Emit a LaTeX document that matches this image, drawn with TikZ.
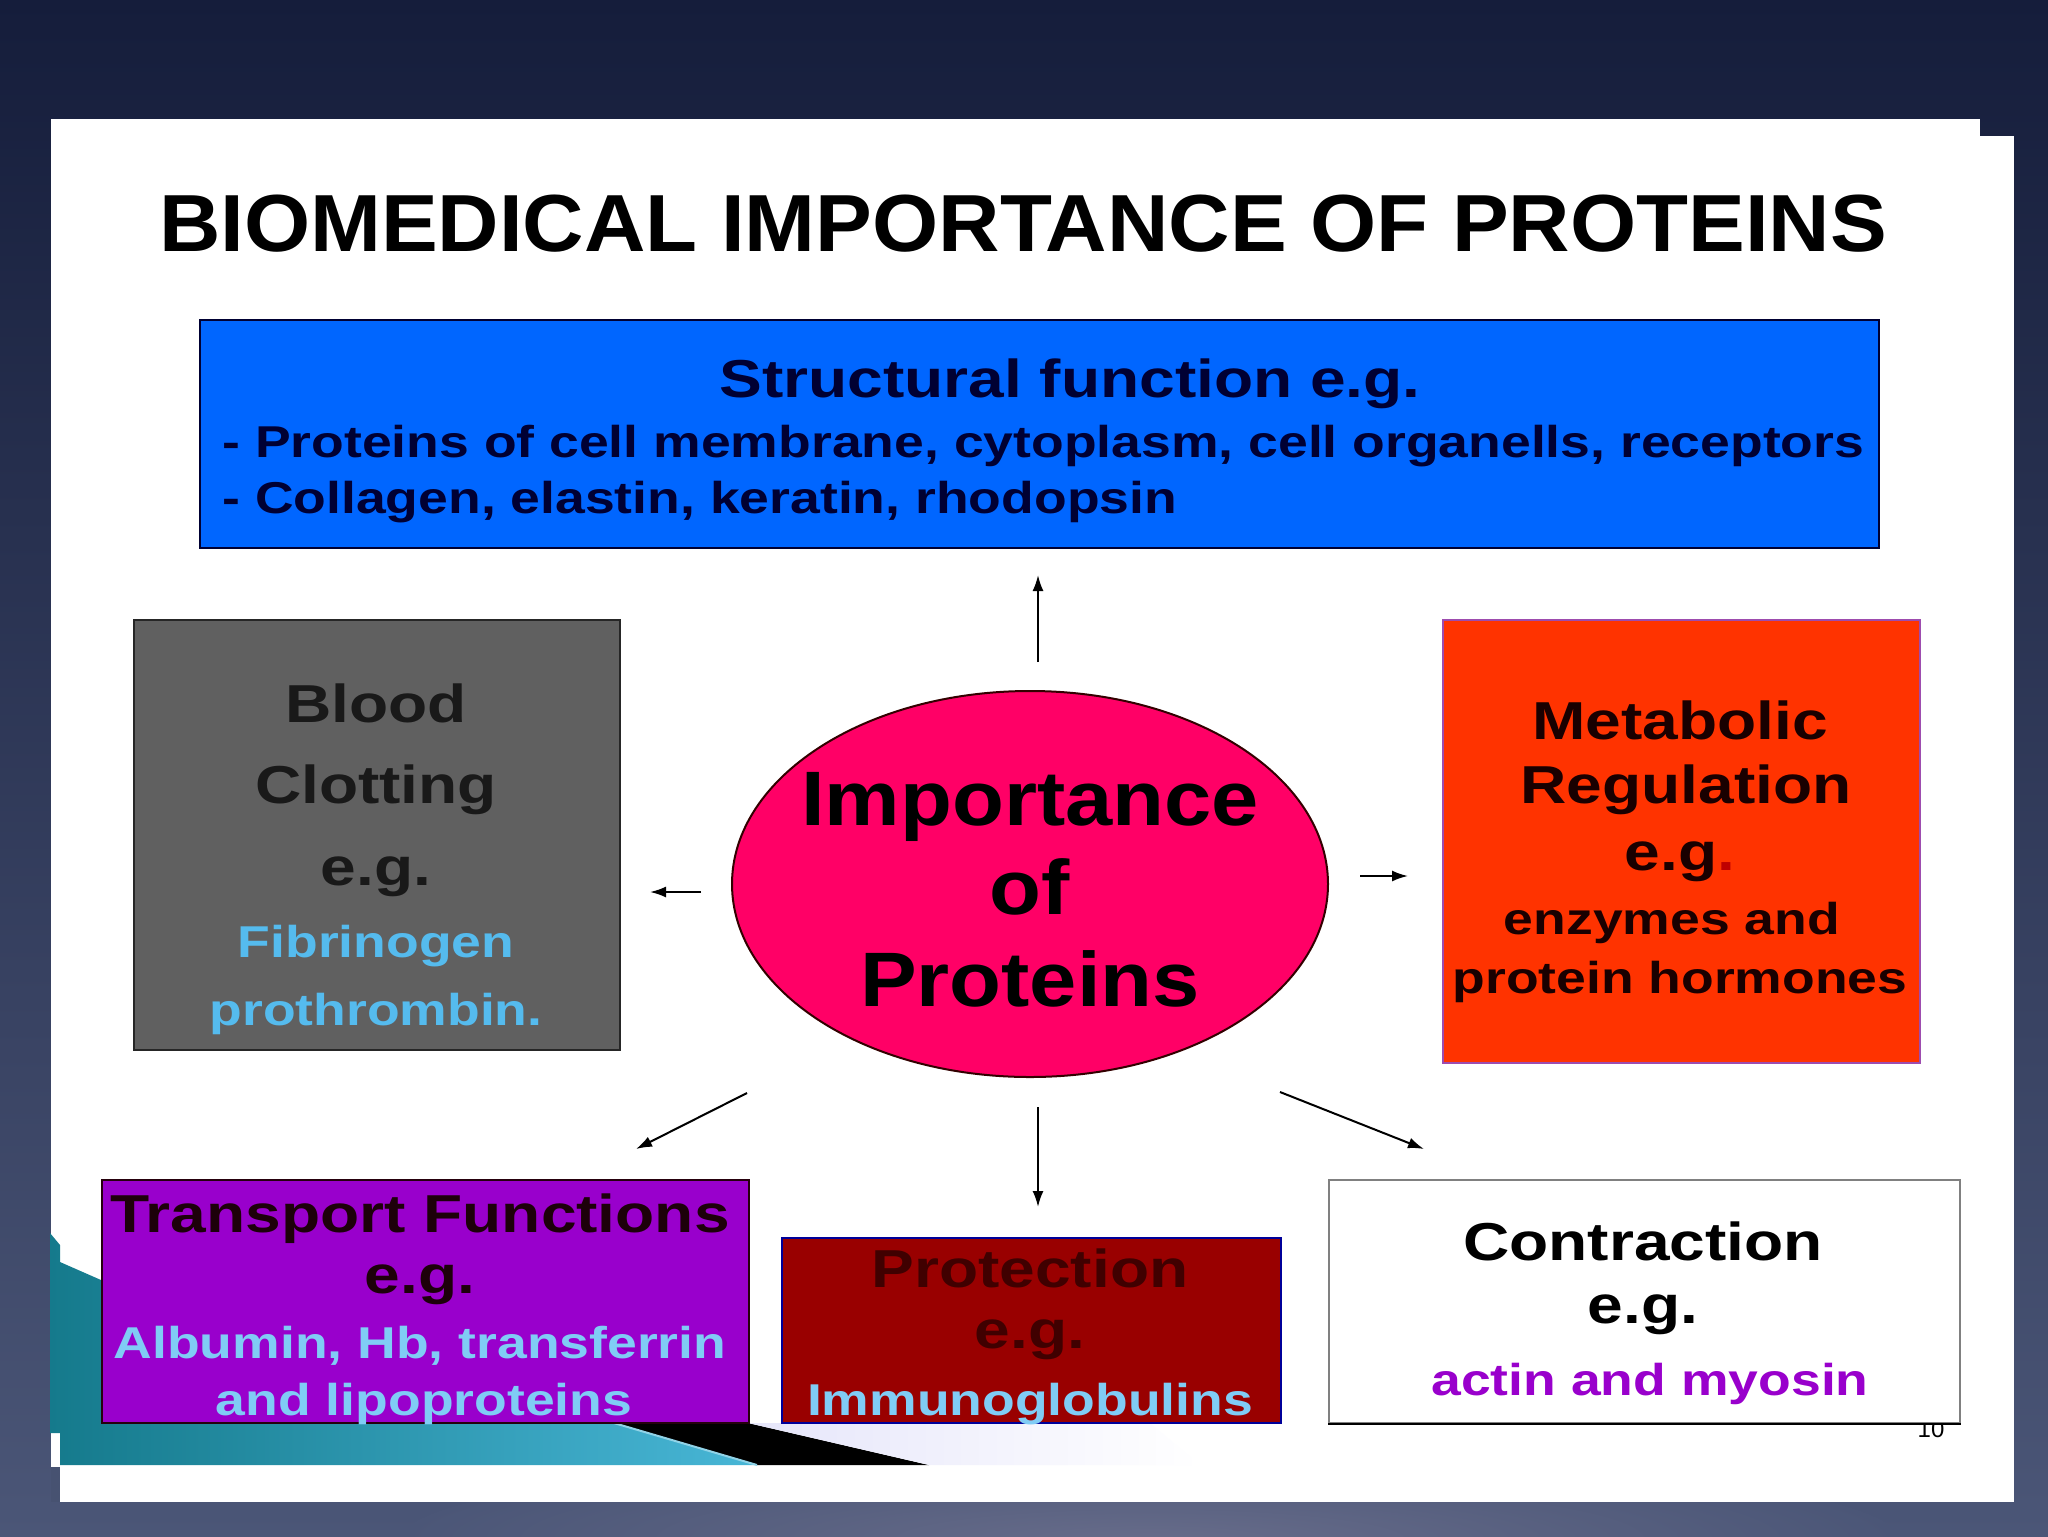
\documentclass[tikz,border=0pt]{standalone}
\usepackage{fontspec}
\setmainfont{Liberation Sans}
\newfontfamily\titlef{Liberation Sans}[FakeStretch=1.05]
\newfontfamily\bodyf{Liberation Sans}[FakeStretch=1.2]
\newfontfamily\ellf{Liberation Sans}[FakeStretch=1.1]
\usetikzlibrary{shapes.geometric,arrows.meta}
\definecolor{bgtop}{HTML}{151D3B}
\definecolor{bgbot}{HTML}{4B5677}
\definecolor{bglight}{HTML}{676C8A}
\definecolor{bluebox}{HTML}{0066FF}
\definecolor{navytxt}{HTML}{000033}
\definecolor{grayfill}{HTML}{606060}
\definecolor{lightblue}{HTML}{55BBEE}
\definecolor{lightblueb}{HTML}{80CCF5}
\definecolor{pinkell}{HTML}{FF0066}
\definecolor{orangebox}{HTML}{FF3300}
\definecolor{purplebox}{HTML}{9900CC}
\definecolor{redbox}{HTML}{990000}
\definecolor{tealA}{HTML}{157A8C}
\definecolor{tealB}{HTML}{48B6D6}
\newcommand\mytitle{\titlef\bfseries\fontsize{40.5pt}{46pt}\selectfont}
\newcommand\myhead{\bodyf\bfseries\fontsize{26.7pt}{30pt}\selectfont}
\newcommand\mysub{\bodyf\bfseries\fontsize{22.3pt}{26pt}\selectfont}
\newcommand\myell{\ellf\bfseries\fontsize{38.6pt}{44pt}\selectfont}
\begin{document}
\begin{tikzpicture}[x=0.5pt,y=-0.5pt,
  box/.style={draw, line width=1pt, inner sep=0pt, anchor=north west},
  hl/.style={anchor=base, inner sep=0pt, font=\myhead},
  sl/.style={anchor=base, inner sep=0pt, font=\mysub},
  el/.style={anchor=base, inner sep=0pt, font=\myell},
  arr/.style={-{Latex[length=8pt,width=5.5pt]}, line width=1pt, black}]
% background
\shade[top color=bgtop, bottom color=bgbot] (0,0) rectangle (2048,1536);
\begin{scope}
  \clip (0,1502) rectangle (2048,1536);
  \shade[inner color=bglight, outer color=bgbot] (1150,1540) ellipse (750 and 90);
\end{scope}
% slide
\fill[white] (51,119) rectangle (1980,1502);
\fill[white] (1980,136) rectangle (2014,1502);
\fill[bgbot!95!black] (51,1467) rectangle (60,1502);
% bottom-left template decoration
\shade[left color=tealA, right color=tealB]
  (50,1233) -- (60,1245) -- (60,1262) -- (101,1280) -- (101,1423) -- (614,1423)
  -- (757,1465) -- (60,1465) -- (60,1433) -- (50,1433) -- cycle;
\fill[black] (614,1423) -- (748,1423) -- (929,1465) -- (757,1465) -- cycle;
\draw[tealB!60!white, line width=1pt] (614,1423) -- (757,1465);
\shade[left color=black!20!blue!10!white, right color=white]
  (748,1423) -- (1150,1423) -- (1200,1465) -- (929,1465) -- cycle;
% title
\node[anchor=base, inner sep=0pt, font=\mytitle] (title) at (1023,251) {BIOMEDICAL IMPORTANCE OF PROTEINS};
% structural box
\node[box, fill=bluebox, draw=navytxt, minimum width=839.5pt, minimum height=114pt] (struct) at (199,319) {};
\node[hl, text=navytxt] (s1) at (1070,397) {Structural function e.g.};
\node[sl, text=navytxt, anchor=base west] (s2) at (222,457) {- Proteins of cell membrane, cytoplasm, cell organells, receptors};
\node[sl, text=navytxt, anchor=base west] (s3) at (222,513) {- Collagen, elastin, keratin, rhodopsin};
% blood clotting box
\node[box, fill=grayfill, draw=black!85, minimum width=243pt, minimum height=215pt] (blood) at (133,619) {};
\node[hl, text=black!90] (b1) at (376,722) {Blood};
\node[hl, text=black!90] (b2) at (376,803) {Clotting};
\node[hl, text=black!90] (b3) at (376,885) {e.g.};
\node[sl, text=lightblue] (b4) at (376,957) {Fibrinogen};
\node[sl, text=lightblue] (b5) at (376,1025) {prothrombin.};
% metabolic box
\node[box, fill=orangebox, draw=blue!40!purple!70, minimum width=238.5pt, minimum height=221.5pt] (metab) at (1442,619) {};
\node[hl, text=black!90!red] (m1) at (1680,739) {Metabolic};
\node[hl, text=black!90!red] (m2) at (1686,803) {Regulation};
\node[hl, text=black!90!red] (m3) at (1680,870) {e.g\textcolor{red!75!black}{.}};
\node[sl, text=black!90!red] (m4) at (1672,934) {enzymes and};
\node[sl, text=black!90!red] (m5) at (1680,993) {protein hormones};
% ellipse
\node[ellipse, draw=black!80!red, line width=1pt, fill=pinkell, minimum width=298pt, minimum height=193pt, inner sep=0pt] (imp) at (1030,884) {};
\node[el] (i1) at (1030,825) {Importance};
\node[el] (i2) at (1030,914) {of};
\node[el] (i3) at (1030,1006) {Proteins};
% page number
\node[anchor=base, inner sep=0pt, font=\fontsize{12pt}{14pt}\selectfont] (pnum) at (1931,1437) {10};
% transport box
\node[box, fill=purplebox, draw=black!80!purple, minimum width=323.5pt, minimum height=121.5pt] (trans) at (101,1179) {};
\node[hl, text=black!85!purple] (t1) at (420,1232) {Transport Functions};
\node[hl, text=black!85!purple] (t2) at (420,1293) {e.g.};
\node[sl, text=lightblueb] (t3) at (420,1358) {Albumin, Hb, transferrin};
\node[sl, text=lightblueb] (t4) at (424,1415) {and lipoproteins};
% protection box
\node[box, fill=redbox, draw=blue!60!black, minimum width=249.5pt, minimum height=92.5pt] (prot) at (781,1237) {};
\node[hl, text=black!75!red] (p1) at (1030,1287) {Protection};
\node[hl, text=black!75!red] (p2) at (1030,1348) {e.g.};
\node[sl, text=lightblueb] (p3) at (1030,1415) {Immunoglobulins};
% contraction box
\node[box, fill=white, draw=black!50, minimum width=315.5pt, minimum height=121.5pt] (contr) at (1328,1179) {};
\draw[black, line width=1.2pt] (contr.south west) -- (contr.south east);
\node[hl, text=black] (c1) at (1643,1260) {Contraction};
\node[hl, text=black] (c2) at (1643,1323) {e.g.};
\node[sl, text=purplebox] (c3) at (1650,1395) {actin and myosin};
% arrows
\coordinate (upA) at (1038,662);   \coordinate (upB) at (1038,575);
\coordinate (lfA) at (701,892);    \coordinate (lfB) at (650,892);
\coordinate (rtA) at (1360,876);   \coordinate (rtB) at (1408,876);
\coordinate (dlA) at (747,1093);   \coordinate (dlB) at (636,1149);
\coordinate (dnA) at (1038,1107);  \coordinate (dnB) at (1038,1207);
\coordinate (drA) at (1280,1092);  \coordinate (drB) at (1424,1149);
\draw[arr] (upA) -- (upB);
\draw[arr] (lfA) -- (lfB);
\draw[arr] (rtA) -- (rtB);
\draw[arr] (dlA) -- (dlB);
\draw[arr] (dnA) -- (dnB);
\draw[arr] (drA) -- (drB);
\useasboundingbox (0,0) rectangle (2048,1536);
\end{tikzpicture}
\end{document}
